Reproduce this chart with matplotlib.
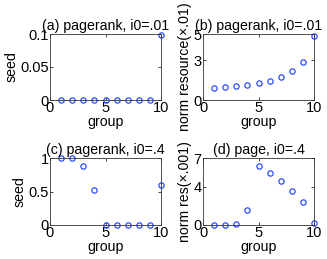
import numpy as np
import matplotlib.pyplot as plt

plt.rcParams['font.family'] = ['Liberation Sans', 'DejaVu Sans']

groups = np.arange(1, 11)
seed_a = [0, 0, 0, 0, 0, 0, 0, 0, 0, 0.099]
res_b = [0.91, 0.96, 1.04, 1.14, 1.26, 1.46, 1.72, 2.22, 2.9, 4.82]
seed_c = [1, 1, 0.885, 0.525, 0, 0, 0, 0, 0, 0.59]
res_d = [0.0, 0.02, 0.1, 1.6, 6.2, 5.45, 4.6, 3.55, 2.4, 0.25]

titles = ['(a) pagerank, i0=.01', '(b) pagerank, i0=.01',
          '(c) pagerank, i0=.4', '(d) page, i0=.4']
ylabels = ['seed', 'norm resource(\u00d7.01)', 'seed', 'norm res(\u00d7.001)']
yticks = [[0, 0.05, 0.1], [0, 3, 5], [0, 0.5, 1], [0, 4, 7]]
yticklabels = [['0', '0.05', '0.1'], ['0', '3', '5'], ['0', '0.5', '1'], ['0', '4', '7']]
data = [seed_a, res_b, seed_c, res_d]

W, H = 327, 259
fig = plt.figure(figsize=(W / 100, H / 100), dpi=100)
# axes boxes in pixels: left, top, right, bottom
boxes = [(50, 34, 161, 100), (203, 34, 314, 100),
         (50, 158, 161, 225), (203, 158, 314, 225)]

for i in range(4):
    l, t, r, b = boxes[i]
    ax = fig.add_axes([l / W, 1 - b / H, (r - l) / W, (b - t) / H])
    ax.plot(groups, data[i], 'o', mfc='none', mec='#2b4cff', ms=3.8, mew=0.9, clip_on=False)
    ax.set_xlim(0, 10)
    ax.set_ylim(yticks[i][0], yticks[i][-1])
    ax.set_xticks([0, 5, 10])
    ax.set_yticks(yticks[i])
    ax.set_yticklabels(yticklabels[i])
    ax.tick_params(direction='in', length=2, width=0.5, pad=1, labelsize=10.5,
                   top=True, right=True)
    for s in ax.spines.values():
        s.set_linewidth(0.6)
        s.set_color('#333333')
    ax.set_title(titles[i], fontsize=10.2, pad=3)
    ax.set_xlabel('group', fontsize=10.2, labelpad=0)
    ax.set_ylabel(ylabels[i], fontsize=10.2, labelpad=1)

fig.savefig('out.png', dpi=100)
